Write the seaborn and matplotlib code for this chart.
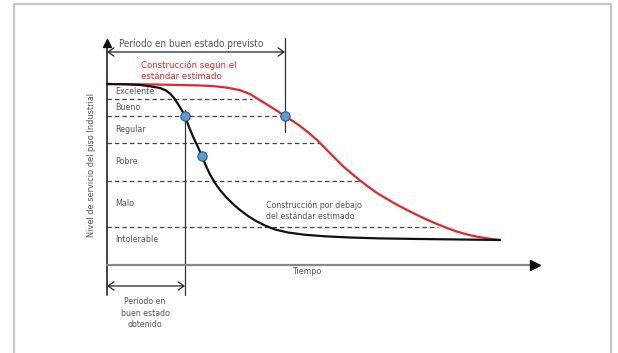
import matplotlib.pyplot as plt
import matplotlib.lines as mlines
import seaborn as sns
import pandas as pd

# tiempo vs nivel de servicio (unidades arbitrarias, sin escala)
t_red = [0, 23, 48, 73, 93, 108, 121, 133, 143, 151, 160, 169, 178, 186, 193, 201, 210,
         217, 223, 230, 236, 244, 253, 261, 270, 280, 290, 300, 310, 320, 330, 340, 350,
         360, 370, 381, 393]
lvl_red = [181, 180.8, 180.5, 180, 179.5, 178.7, 177.2, 174.8, 171, 166, 160.5, 154.8,
           149, 143.8, 139, 132.8, 125, 118, 111.8, 104.8, 98.8, 92, 84.5, 78.5, 72, 66,
           60.2, 55, 50, 45.3, 41, 37, 33.4, 30.5, 28.3, 26.5, 25]

t_black = [0, 18, 33, 43, 53, 59, 63, 67, 71, 75, 78, 82, 86, 90, 95, 99, 103, 108, 113,
           119, 126, 133, 141, 149, 158, 168, 181, 198, 218, 243, 273, 313, 353, 393]
lvl_black = [181, 180.7, 180, 178.7, 177, 174.5, 171.5, 167, 161, 154.5, 149, 138, 128.5,
             120, 109, 99, 90.5, 82, 75, 68, 61, 55, 49, 44, 39.5, 35.5, 32.5, 30.2, 28.7,
             27.5, 26.6, 26, 25.5, 25]

# estados del piso
state_names = ["Excelente", "Bueno", "Regular", "Pobre", "Malo", "Intolerable"]
state_label_lvl = [173, 157, 136, 104, 62, 25]
state_bounds = [166, 149, 122, 84, 38]
bound_ends = [145, 178, 213, 255, 331]

# puntos marcados
pts_t = [78, 95, 178]
pts_lvl = [149, 109, 149]

t_good_real = 78      # periodo en buen estado obtenido
t_good_plan = 178     # periodo en buen estado previsto

TXT = "#555555"
RED = "#e3262b"

sns.set_theme(style="white")
plt.rcParams["font.family"] = ["DejaVu Sans"]
plt.rcParams["font.stretch"] = "condensed"

fig = plt.figure(figsize=(6.18, 3.53), dpi=100)
ax = fig.add_axes([0, 0, 1, 1])
ax.set_xlim(-107, 511)
ax.set_ylim(-88, 265)
ax.axis("off")

# marco gris
for xs, ys in [([0.0227, 0.0227], [0, 0.9887]), ([0.0227, 0.9887], [0.9887, 0.9887]),
               ([0.9887, 0.9887], [0.9887, 0])]:
    fig.add_artist(mlines.Line2D(xs, ys, color="#c8c8c8", lw=1.6))

# limites de nivel
for b, e in zip(state_bounds, bound_ends):
    ax.plot([0, e], [b, b], ls=(0, (3.5, 2.5)), color="#444444", lw=0.9, zorder=1)
for name, y in zip(state_names, state_label_lvl):
    ax.text(8, y, name, fontsize=6.4, color=TXT, va="center", ha="left")

df = pd.concat([
    pd.DataFrame({"t": t_red, "nivel": lvl_red, "tipo": "estandar"}),
    pd.DataFrame({"t": t_black, "nivel": lvl_black, "tipo": "debajo"}),
])
sns.lineplot(data=df, x="t", y="nivel", hue="tipo", sort=False,
             palette={"estandar": RED, "debajo": "#111111"}, lw=1.6,
             legend=False, ax=ax, zorder=3)

ax.plot([t_good_real, t_good_real], [155, -30], color="#333333", lw=0.9, zorder=2)
ax.plot([t_good_plan, t_good_plan], [227, 133], color="#333333", lw=0.9, zorder=2)

sns.scatterplot(x=pts_t, y=pts_lvl, s=45, color="#5b9bd5", edgecolor="#2a5a85",
                linewidth=0.8, ax=ax, zorder=5)

# ejes
ax.plot([0, 0], [-30, 220], color="#222222", lw=1.2, zorder=2)
ax.plot([0], [222], marker="^", color="#111111", ms=6, zorder=3)
ax.plot([0, 426], [0, 0], color="#888888", lw=1.6, zorder=2)
ax.plot([428], [0], marker=">", color="#111111", ms=7, zorder=3)

arrow = dict(arrowstyle="<->,head_length=0.35,head_width=0.25", color="#222222", lw=0.9,
             shrinkA=0, shrinkB=0)
ax.annotate("", xy=(0, 213), xytext=(t_good_plan, 213), arrowprops=arrow)
ax.annotate("", xy=(0, -21), xytext=(t_good_real, -21), arrowprops=arrow)

ax.text(84, 221, "Período en buen estado previsto", fontsize=7.1, color=TXT,
        ha="center", va="center")
ax.text(38, -48, "Período en\nbuen estado\nobtenido", fontsize=6.3, color=TXT,
        ha="center", va="center", linespacing=1.3)
ax.text(34, 194.5, "Construcción según el\nestándar estimado", fontsize=6.8, color=RED,
        ha="left", va="center", linespacing=1.25)
ax.text(159, 54.5, "Construcción por debajo\ndel estándar estimado", fontsize=6.3,
        color=TXT, ha="left", va="center", linespacing=1.25)
ax.text(200, -7, "Tiempo", fontsize=6.4, color=TXT, ha="center", va="center")
ax.text(-15, 100, "Nivel de servicio del piso Industrial", fontsize=6.6, color=TXT,
        ha="center", va="center", rotation=90)

fig.savefig("out.png", dpi=100)
